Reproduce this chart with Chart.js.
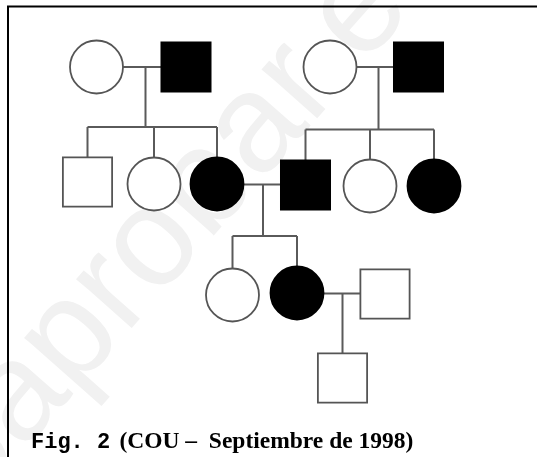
<!DOCTYPE html>
<html>
<head>
<meta charset="utf-8">
<script src="https://cdn.jsdelivr.net/npm/chart.js@4.4.1/dist/chart.umd.min.js"></script>
<style>
html, body { margin: 0; padding: 0; background: #fff; }
</style>
</head>
<body>
<canvas id="pedigree" width="537" height="457"></canvas>
<script>
// individuals of the pedigree: place in the drawing, sex, affected or not
const personX   = [96.5, 186, 330, 418.5, 87.5, 154, 217, 305.5, 370, 434, 232.5, 297, 385, 342.5];
const personY   = [67, 67, 67, 67, 182, 184, 184, 185, 186, 186, 295, 293, 294, 378];
const personSex = ['F', 'M', 'F', 'M', 'M', 'F', 'F', 'M', 'F', 'F', 'F', 'F', 'M', 'M'];
const affected  = [0, 1, 0, 1, 0, 0, 1, 1, 0, 1, 0, 1, 0, 0];

// families: parents, children, level of the sibship bar, x of the drop line
const famParents  = [[0, 1], [2, 3], [6, 7], [11, 12]];
const famChildren = [[4, 5, 6], [7, 8, 9], [10, 11], [13]];
const famBarY     = [127, 129.5, 236, 353];
const famDropX    = [145.5, 378.5, 263, 342.5];

const captionMono  = 'Fig. 2 ';
const captionSerif = '(COU \u2013  Septiembre de 1998)';
const watermark    = 'yoquieroaprobar.es';

function seg(x1, y1, x2, y2) {
    return {
        type: 'scatter',
        data: [{x: x1, y: y1}, {x: x2, y: y2}],
        showLine: true,
        borderColor: '#5a5a5a',
        borderWidth: 2,
        pointRadius: 0,
        order: 2
    };
}

var datasets = [];
famParents.forEach(function(p, i) {
    var a = p[0], b = p[1];
    var my = (personY[a] + personY[b]) / 2;
    var dx = famDropX[i];
    var by = famBarY[i];
    datasets.push(seg(personX[a], my, personX[b], my));
    datasets.push(seg(dx, my, dx, by));
    var kids = famChildren[i];
    var xs = kids.map(function(k) { return personX[k]; }).concat([dx]);
    var lo = Math.min.apply(null, xs), hi = Math.max.apply(null, xs);
    if (hi - lo > 1) datasets.push(seg(lo, by, hi, by));
    kids.forEach(function(k) {
        datasets.push(seg(personX[k], by, personX[k], personY[k]));
    });
});

datasets.push({
    type: 'scatter',
    data: personX.map(function(x, i) { return {x: x, y: personY[i]}; }),
    pointStyle: personSex.map(function(s) { return s == 'M' ? 'rect' : 'circle'; }),
    pointRadius: personSex.map(function(s) { return s == 'M' ? 34.8 : 26.5; }),
    pointBackgroundColor: affected.map(function(a) { return a ? '#000' : '#fff'; }),
    pointBorderColor: affected.map(function(a) { return a ? '#000' : '#555'; }),
    pointBorderWidth: 1.8,
    order: 1
});

const decor = {
    id: 'decor',
    beforeDatasetsDraw: function(chart) {
        var ctx = chart.ctx;
        ctx.save();
        // faint watermark
        ctx.font = '140px "Liberation Sans", Arial, sans-serif';
        ctx.fillStyle = '#f1f1f1';
        ctx.translate(22, 452);
        ctx.rotate(-48.5 * Math.PI / 180);
        ctx.fillText(watermark, -ctx.measureText('yoquiero').width, 0);
        ctx.restore();
    },
    afterDraw: function(chart) {
        var ctx = chart.ctx;
        ctx.save();
        // frame
        ctx.strokeStyle = '#000';
        ctx.lineWidth = 2;
        ctx.beginPath();
        ctx.moveTo(537, 6.5);
        ctx.lineTo(8, 6.5);
        ctx.lineTo(8, 457);
        ctx.stroke();
        // caption
        ctx.fillStyle = '#000';
        ctx.textBaseline = 'alphabetic';
        ctx.font = 'bold 22px "Liberation Mono", "Courier New", monospace';
        ctx.fillText(captionMono, 31, 448);
        var w = ctx.measureText(captionMono).width;
        ctx.font = 'bold 23.5px "Liberation Serif", "Times New Roman", serif';
        ctx.fillText(captionSerif, 31 + w - 4, 448);
        ctx.restore();
    }
};

new Chart(document.getElementById('pedigree'), {
    type: 'scatter',
    data: {datasets: datasets},
    plugins: [decor],
    options: {
        responsive: false,
        animation: false,
        events: [],
        layout: {padding: 0, autoPadding: false},
        plugins: {legend: {display: false}, tooltip: {enabled: false}},
        scales: {
            x: {type: 'linear', min: 0, max: 537, display: false},
            y: {type: 'linear', min: 0, max: 457, reverse: true, display: false}
        }
    }
});
</script>
</body>
</html>
